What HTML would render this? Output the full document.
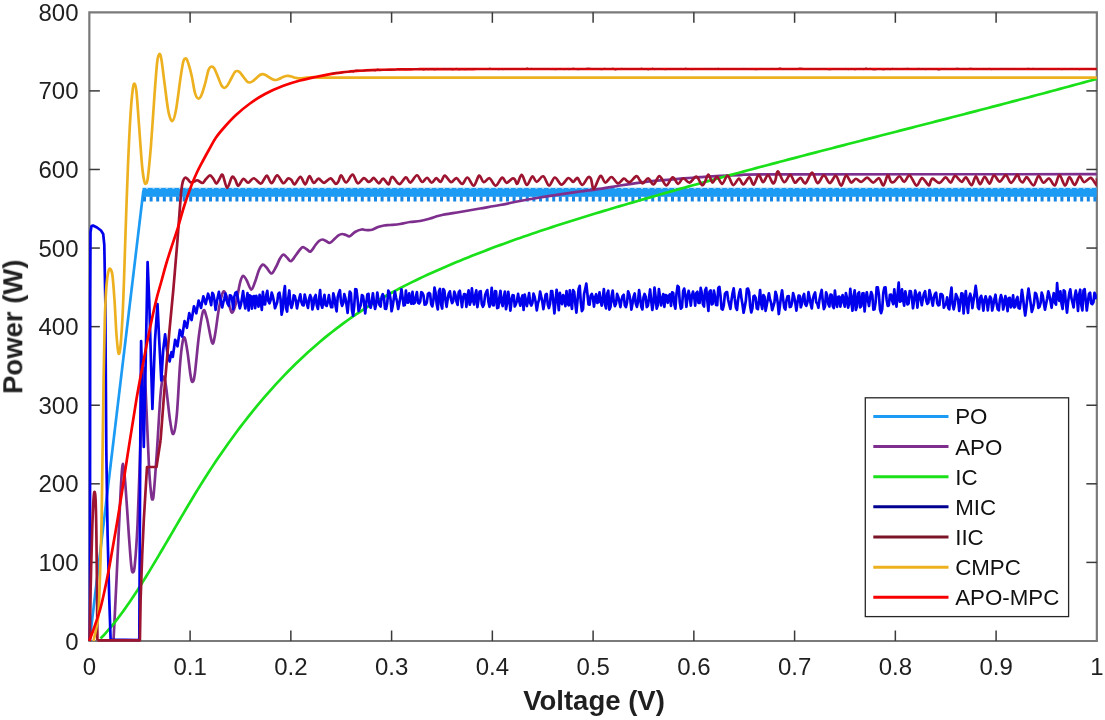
<!DOCTYPE html>
<html><head><meta charset="utf-8"><style>
html,body{margin:0;padding:0;background:#fff;}
svg{display:block;}
text{font-family:"Liberation Sans",sans-serif;}
.t{opacity:0.999;will-change:opacity;}
</style></head><body>
<svg width="1105" height="720" viewBox="0 0 1105 720">
<rect width="1105" height="720" fill="#fff"/>
<defs><clipPath id="c"><rect x="87.35" y="12.3" width="1009.5" height="630.7"/></clipPath></defs>
<g fill="none" stroke="#7a7a7a" stroke-width="2.2">
<path d="M89.35 12.3L1096.85 12.3L1096.85 641L89.35 641Z"/>
</g>
<g stroke="#3a3a3a" stroke-width="1.5">
<line x1="190.1" y1="641" x2="190.1" y2="630.5"/>
<line x1="190.1" y1="12.3" x2="190.1" y2="22.8"/>
<line x1="290.85" y1="641" x2="290.85" y2="630.5"/>
<line x1="290.85" y1="12.3" x2="290.85" y2="22.8"/>
<line x1="391.6" y1="641" x2="391.6" y2="630.5"/>
<line x1="391.6" y1="12.3" x2="391.6" y2="22.8"/>
<line x1="492.35" y1="641" x2="492.35" y2="630.5"/>
<line x1="492.35" y1="12.3" x2="492.35" y2="22.8"/>
<line x1="593.1" y1="641" x2="593.1" y2="630.5"/>
<line x1="593.1" y1="12.3" x2="593.1" y2="22.8"/>
<line x1="693.85" y1="641" x2="693.85" y2="630.5"/>
<line x1="693.85" y1="12.3" x2="693.85" y2="22.8"/>
<line x1="794.6" y1="641" x2="794.6" y2="630.5"/>
<line x1="794.6" y1="12.3" x2="794.6" y2="22.8"/>
<line x1="895.35" y1="641" x2="895.35" y2="630.5"/>
<line x1="895.35" y1="12.3" x2="895.35" y2="22.8"/>
<line x1="996.1" y1="641" x2="996.1" y2="630.5"/>
<line x1="996.1" y1="12.3" x2="996.1" y2="22.8"/>
<line x1="89.35" y1="562.41" x2="99.85" y2="562.41"/>
<line x1="1096.85" y1="562.41" x2="1086.35" y2="562.41"/>
<line x1="89.35" y1="483.82" x2="99.85" y2="483.82"/>
<line x1="1096.85" y1="483.82" x2="1086.35" y2="483.82"/>
<line x1="89.35" y1="405.24" x2="99.85" y2="405.24"/>
<line x1="1096.85" y1="405.24" x2="1086.35" y2="405.24"/>
<line x1="89.35" y1="326.65" x2="99.85" y2="326.65"/>
<line x1="1096.85" y1="326.65" x2="1086.35" y2="326.65"/>
<line x1="89.35" y1="248.06" x2="99.85" y2="248.06"/>
<line x1="1096.85" y1="248.06" x2="1086.35" y2="248.06"/>
<line x1="89.35" y1="169.47" x2="99.85" y2="169.47"/>
<line x1="1096.85" y1="169.47" x2="1086.35" y2="169.47"/>
<line x1="89.35" y1="90.89" x2="99.85" y2="90.89"/>
<line x1="1096.85" y1="90.89" x2="1086.35" y2="90.89"/>
</g>
<g clip-path="url(#c)" stroke-linecap="butt">
<path d="M89.6 641L143.4 190.5" stroke="#1c9bf4" stroke-width="2.7" fill="none"/>
<rect x="142.5" y="187.8" width="954.35" height="9.0" fill="#1c9bf4"/>
<line x1="146" y1="188.5" x2="1096.85" y2="188.5" stroke="#fff" stroke-width="1.2" stroke-dasharray="2 4.6" opacity="0.55"/>
<line x1="143" y1="199.1" x2="1096.85" y2="199.1" stroke="#1687e4" stroke-width="5" stroke-dasharray="3 3.6"/>
<path d="M113.5 641C114 630.83 115.62 598.5 116.5 580C117.38 561.5 118 546.67 118.8 530C119.6 513.33 120.58 491 121.3 480C122.02 469 122.45 463.67 123.1 464C123.75 464.33 124.3 471 125.2 482C126.1 493 127.5 516.17 128.5 530C129.5 543.83 130.47 557.95 131.2 565C131.93 572.05 132.3 572.3 132.9 572.3C133.5 572.3 134.03 572.88 134.8 565C135.57 557.12 136.6 544.17 137.5 525C138.4 505.83 139.4 473.33 140.2 450C141 426.67 141.7 398.67 142.3 385C142.9 371.33 143.25 367.17 143.8 368C144.35 368.83 144.73 373.5 145.6 390C146.47 406.5 148.07 449.67 149 467C149.93 484.33 150.63 488.6 151.2 494C151.77 499.4 151.97 499.57 152.4 499.4C152.83 499.23 153.03 501.23 153.8 493C154.57 484.77 155.88 466.33 157 450C158.12 433.67 159.47 407.17 160.5 395C161.53 382.83 162.32 378.67 163.2 377C164.08 375.33 164.67 377.83 165.8 385C166.93 392.17 168.75 411.83 170 420C171.25 428.17 172.17 434.83 173.3 434C174.43 433.17 175.68 426.5 176.8 415C177.92 403.5 179.03 377.17 180 365C180.97 352.83 181.8 346.5 182.6 342C183.4 337.5 183.98 336.33 184.8 338C185.62 339.67 186.55 345.83 187.5 352C188.45 358.17 189.68 370 190.5 375C191.32 380 191.68 382.17 192.4 382C193.12 381.83 193.7 381.83 194.8 374C195.9 366.17 197.6 345.5 199 335C200.4 324.5 201.9 313.83 203.2 311C204.5 308.17 205.32 312.72 206.8 318C208.28 323.28 210.73 339.87 212.1 342.7C213.47 345.53 213.85 340.78 215 335C216.15 329.22 217.65 315.17 219 308C220.35 300.83 221.85 294 223.1 292C224.35 290 225.35 293.33 226.5 296C227.65 298.67 229 305.25 230 308C231 310.75 231.5 313.33 232.5 312.5C233.5 311.67 234.75 307.92 236 303C237.25 298.08 238.85 287.5 240 283C241.15 278.5 241.82 276.5 242.9 276C243.98 275.5 245.12 277.73 246.5 280C247.88 282.27 249.78 289.27 251.2 289.6C252.62 289.93 253.7 285.27 255 282C256.3 278.73 257.72 272.9 259 270C260.28 267.1 261.45 265.02 262.7 264.6C263.95 264.18 265.03 266.02 266.5 267.5C267.97 268.98 269.92 273.58 271.5 273.5C273.08 273.42 274.58 269.5 276 267C277.42 264.5 278.77 260.55 280 258.5C281.23 256.45 282.23 254.87 283.4 254.7C284.57 254.53 285.73 256.42 287 257.5C288.27 258.58 289.5 261.62 291 261.2C292.5 260.78 294.5 256.95 296 255C297.5 253.05 298.83 250.82 300 249.5C301.17 248.18 301.83 247.1 303 247.1C304.17 247.1 305.73 248.77 307 249.5C308.27 250.23 309.18 252.25 310.6 251.5C312.02 250.75 314.1 246.75 315.5 245C316.9 243.25 317.83 241.92 319 241C320.17 240.08 321.33 239.5 322.5 239.5C323.67 239.5 324.73 240.45 326 241C327.27 241.55 328.6 243.22 330.1 242.8C331.6 242.38 333.6 239.75 335 238.5C336.4 237.25 337.32 236.05 338.5 235.3C339.68 234.55 340.85 234.05 342.1 234C343.35 233.95 344.73 234.63 346 235C347.27 235.37 348.2 236.7 349.7 236.2C351.2 235.7 353.02 233.12 355 232C356.98 230.88 359.77 229.83 361.6 229.5C363.43 229.17 364.27 229.95 366 230C367.73 230.05 370 230.3 372 229.8C374 229.3 376 227.72 378 227C380 226.28 382 225.83 384 225.5C386 225.17 387.33 225.25 390 225C392.67 224.75 396.67 224.5 400 224C403.33 223.5 406.67 222.5 410 222C413.33 221.5 416.67 221.58 420 221C423.33 220.42 426.67 219.42 430 218.5C433.33 217.58 435 216.58 440 215.5C445 214.42 453.33 213.17 460 212C466.67 210.83 473.33 209.67 480 208.5C486.67 207.33 493.33 206.25 500 205C506.67 203.75 513.33 202.25 520 201C526.67 199.75 533.33 198.6 540 197.5C546.67 196.4 553.33 195.4 560 194.4C566.67 193.4 573.33 192.43 580 191.5C586.67 190.57 593.33 189.8 600 188.8C606.67 187.8 613.33 186.53 620 185.5C626.67 184.47 633.33 183.45 640 182.6C646.67 181.75 653.33 181.05 660 180.4C666.67 179.75 673.33 179.23 680 178.7C686.67 178.17 693.33 177.67 700 177.2C706.67 176.73 713.33 176.25 720 175.9C726.67 175.55 730 175.35 740 175.1C750 174.85 720.52 174.55 780 174.4C839.48 174.25 1044.04 174.23 1096.85 174.2" stroke="#7e2f8e" stroke-width="2.7" fill="none" stroke-linejoin="round"/>
<path d="M100.5 638.55L102 637.02L103.5 635.45L105 633.83L106.5 632.17L108 630.47L109.5 628.74L111 626.96L112.5 625.14L114 623.29L115.5 621.4L117 619.48L118.5 617.52L120 615.53L121.5 613.5L123 611.45L124.5 609.36L126 607.25L127.5 605.1L129 602.93L130.5 600.73L132 598.51L133.5 596.26L135 593.98L136.5 591.69L138 589.37L139.5 587.03L141 584.67L142.5 582.29L144 579.89L145.5 577.48L147 575.04L148.5 572.6L150 570.13L151.5 567.66L153 565.17L154.5 562.67L156 560.15L157.5 557.63L159 555.1L160.5 552.56L162 550.01L163.5 547.46L165 544.9L166.5 542.34L168 539.77L169.5 537.2L171 534.63L172.5 532.06L174 529.49L175.5 526.92L177 524.35L178.5 521.78L180 519.22L181.5 516.66L183 514.11L184.5 511.57L186 509.03L187.5 506.5L189 503.98L190.5 501.47L192 498.98L193.5 496.49L195 494.02L196.5 491.56L198 489.12L199.5 486.69L200 485.89L204 479.51L208 473.26L212 467.13L216 461.11L220 455.21L224 449.43L228 443.76L232 438.2L236 432.76L240 427.43L244 422.2L248 417.08L252 412.07L256 407.16L260 402.35L264 397.65L268 393.05L272 388.54L276 384.14L280 379.83L284 375.61L288 371.49L292 367.46L296 363.53L300 359.68L304 355.92L308 352.24L312 348.66L316 345.15L320 341.73L324 338.39L328 335.13L332 331.95L336 328.85L340 325.82L344 322.86L348 319.98L352 317.17L356 314.43L360 311.76L364 309.14L368 306.6L372 304.11L376 301.68L380 299.31L384 296.99L388 294.72L392 292.51L396 290.34L400 288.23L404 286.15L408 284.12L412 282.13L416 280.18L420 278.26L424 276.38L428 274.53L432 272.71L436 270.93L440 269.16L444 267.43L448 265.71L452 264.02L456 262.35L460 260.69L464 259.06L468 257.44L472 255.84L476 254.26L480 252.7L484 251.15L488 249.62L492 248.11L496 246.61L500 245.13L504 243.66L508 242.21L512 240.77L516 239.35L520 237.94L524 236.55L528 235.16L532 233.79L536 232.44L540 231.09L544 229.76L548 228.43L552 227.12L556 225.82L560 224.53L564 223.25L568 221.98L572 220.71L576 219.46L580 218.22L584 216.98L588 215.75L592 214.53L596 213.31L600 212.1L604 210.9L608 209.7L612 208.51L616 207.32L620 206.14L624 204.96L628 203.79L632 202.62L636 201.46L640 200.29L644 199.14L648 197.99L652 196.84L656 195.69L660 194.55L664 193.41L668 192.28L672 191.15L676 190.02L680 188.9L684 187.78L688 186.66L692 185.55L696 184.44L700 183.33L704 182.23L708 181.13L712 180.03L716 178.94L720 177.85L724 176.76L728 175.67L732 174.59L736 173.51L740 172.43L744 171.35L748 170.28L752 169.21L756 168.14L760 167.07L764 166.01L768 164.95L772 163.89L776 162.83L780 161.77L784 160.72L788 159.67L792 158.62L796 157.57L800 156.52L804 155.47L808 154.43L812 153.39L816 152.34L820 151.3L824 150.26L828 149.23L832 148.19L836 147.15L840 146.12L844 145.09L848 144.05L852 143.02L856 141.99L860 140.96L864 139.93L868 138.9L872 137.87L876 136.84L880 135.81L884 134.78L888 133.75L892 132.73L896 131.7L900 130.67L904 129.64L908 128.62L912 127.59L916 126.56L920 125.53L924 124.5L928 123.48L932 122.45L936 121.42L940 120.39L944 119.35L948 118.32L952 117.29L956 116.26L960 115.22L964 114.19L968 113.15L972 112.11L976 111.07L980 110.03L984 108.99L988 107.95L992 106.91L996 105.86L1000 104.82L1004 103.77L1008 102.72L1012 101.67L1016 100.61L1020 99.56L1024 98.5L1028 97.44L1032 96.38L1036 95.32L1040 94.25L1044 93.18L1048 92.12L1052 91.04L1056 89.97L1060 88.89L1064 87.81L1068 86.73L1072 85.65L1076 84.56L1080 83.47L1084 82.38L1088 81.28L1092 80.18L1096 79.08L1096.85 78.85" stroke="#19e019" stroke-width="2.7" fill="none" stroke-linejoin="round"/>
<path d="M89.9 641L90.2 300L90.5 232L91.5 226L93 225.5L97 227.5L101 230.5L103.2 234L104.3 245L105.3 300L106.3 450L107.6 535L109.3 600L110.6 639.5L139.3 640L139.7 560L140.4 420L141.1 341L142.2 380L143.8 447L145.5 370L147.6 262L149.2 300L152.4 409L155 340L157.5 304L159.2 340L161.3 380.5L163.2 350L165.1 334.4L167.3 352L169.6 361.5L171.5 352L172.8 356.92L175.15 339.79L177.5 346.3L179.85 329.98L182.2 336.57L184.55 321.08L186.9 327.78L189.25 313.16L191.6 320L193.95 306.29L196.3 313.34L198.65 300.61L201 307.94L203.35 296.3L205.7 304.06L208.05 293.74L210 300L211.2 305.24L212.3 292.81L213.4 294.43L214.5 300.43L215.6 309.85L216.7 302.54L217.8 296.98L218.9 291.93L220 297.36L221.1 302.52L222.2 307.48L223.3 302.37L224.4 298.26L225.5 293.62L226.6 300.28L227.7 303.78L228.8 305.75L229.9 295.24L231 295.67L232.1 298.5L233.2 309.18L234.3 296.76L235.4 292.79L236.5 292L237.6 296.81L238.7 302.53L239.8 308.3L240.9 304.69L242 298.15L243.1 291.16L244.2 301.33L245.3 308.47L246.4 300.21L247.5 293.12L248.6 310.47L249.7 295.33L250.8 296.05L251.9 308.68L253 296.44L254.1 296.05L255.2 308.15L256.3 295.93L257.4 300.59L258.5 306.64L259.6 294.81L260.7 300.11L261.8 309.95L262.9 291.9L264 304.16L265.1 304.4L266.2 295.32L267.3 290.81L268.4 301.21L269.5 303.35L270.6 300.05L271.7 292.66L272.8 296.02L273.9 301.36L275 308.28L276.1 305.25L277.2 302.32L278.3 293.79L279.4 292.59L280.5 298.56L281.6 314.73L282.7 309.4L283.8 293.5L284.9 286.04L286 307.84L287.1 311.53L288.2 298.65L289.3 290.48L290.4 303.83L291.5 307.93L292.6 304L293.7 295.31L294.8 296.06L295.9 300.84L297 308.38L298.1 302.51L299.2 298.63L300.3 294.29L301.4 302.05L302.5 305.15L303.6 305.29L304.7 294.59L305.8 299.2L306.9 303.95L308 307.84L309.1 298.93L310.2 295.14L311.3 297.88L312.4 309.47L313.5 304.72L314.6 297.31L315.7 295.02L316.8 305.43L317.9 308.97L319 300.03L320.1 290.16L321.2 304.33L322.3 307.72L323.4 299.85L324.5 294.77L325.6 305.21L326.7 305.95L327.8 301.93L328.9 295.19L330 301.88L331.1 307.18L332.2 307.27L333.3 293.35L334.4 297.51L335.5 305.61L336.6 311.36L337.7 297.42L338.8 293.18L339.9 290.19L341 301.83L342.1 305.84L343.2 303.01L344.3 294.07L345.4 298.04L346.5 304.57L347.6 312.89L348.7 301.03L349.8 291.51L350.9 293.23L352 310.37L353.1 315.61L354.2 306.09L355.3 289.2L356.4 289.44L357.5 298.23L358.6 311.12L359.7 308.13L360.8 304.91L361.9 295.13L363 295.86L364.1 302.98L365.2 313.43L366.3 303.23L367.4 294.22L368.5 293.93L369.6 306.04L370.7 307.7L371.8 301.6L372.9 293.27L374 302.19L375.1 308.99L376.2 303.89L377.3 292.57L378.4 300.01L379.5 304.97L380.6 306.57L381.7 296.81L382.8 294.13L383.9 296.88L385 308.66L386.1 308.97L387.2 303.3L388.3 290.57L389.4 292.57L390.5 298.97L391.6 311.26L392.7 306.02L393.8 298.65L394.9 291.54L396 297.3L397.1 302.05L398.2 309.02L399.3 303.49L400.4 296.66L401.5 289.27L402.6 297.64L403.7 305.45L404.8 305.09L405.9 290.49L407 302.41L408.1 302.67L409.2 293.37L410.3 300.65L411.4 303.73L412.5 291.96L413.6 303.58L414.7 302.79L415.8 297.12L416.9 292.11L418 302.6L419.1 303.46L420.2 301.56L421.3 292.23L422.4 292.97L423.5 295.34L424.6 304.63L425.7 304.52L426.8 302.67L427.9 294L429 292.86L430.1 293.76L431.2 304.1L432.3 306.44L433.4 300.24L434.5 287.52L435.6 292.98L436.7 303.95L437.8 309.5L438.9 291.28L440 288.95L441.1 304.56L442.2 308.53L443.3 289.1L444.4 290.81L445.5 300.23L446.6 306.82L447.7 299.03L448.8 293.34L449.9 291.3L451 299.28L452.1 303L453.2 301.02L454.3 291.69L455.4 294.61L456.5 301.55L457.6 304.9L458.7 292.32L459.8 290.74L460.9 298.32L462 307.09L463.1 297.7L464.2 294.01L465.3 294.55L466.4 306.84L467.5 295.9L468.6 290.41L469.7 304.7L470.8 301.65L471.9 288.45L473 299.91L474.1 304.56L475.2 295.34L476.3 290.4L477.4 307.04L478.5 300.06L479.6 291.49L480.7 291.18L481.8 304.02L482.9 306.77L484 304.45L485.1 295.3L486.2 292.09L487.3 290.04L488.4 301.61L489.5 306.78L490.6 300.29L491.7 287.87L492.8 305.2L493.9 305.39L495 291.1L496.1 291.28L497.2 308.08L498.3 307.54L499.4 297.35L500.5 290.79L501.6 302.79L502.7 305.99L503.8 297.34L504.9 291.53L506 309.22L507.1 303.19L508.2 291.82L509.3 298.36L510.4 310.64L511.5 301.66L512.6 295.2L513.7 295.44L514.8 306.5L515.9 304.19L517 300.58L518.1 293.95L519.2 301.06L520.3 305.68L521.4 298.63L522.5 295.5L523.6 309.94L524.7 294.51L525.8 299.87L526.9 306.12L528 300.2L529.1 293.1L530.2 302.92L531.3 305.52L532.4 302.87L533.5 293.59L534.6 296.64L535.7 302.25L536.8 310.33L537.9 303.48L539 299.82L540.1 291.56L541.2 296.53L542.3 301.49L543.4 309.15L544.5 302.37L545.6 294.72L546.7 293.96L547.8 304.63L548.9 308.04L550 303.9L551.1 291.15L552.2 291.16L553.3 301.49L554.4 313.31L555.5 301.59L556.6 289.77L557.7 298.1L558.8 310.06L559.9 292.89L561 299.17L562.1 304.19L563.2 295L564.3 297.71L565.4 306.18L566.5 291.18L567.6 303.17L568.7 305.37L569.8 290.32L570.9 301.95L572 309.01L573.1 290.15L574.2 291.9L575.3 303.56L576.4 312.69L577.5 300.47L578.6 289.26L579.7 285.8L580.8 302.06L581.9 311.03L583 309.16L584.1 293.72L585.2 289.15L586.3 283.65L587.4 293.75L588.5 304.43L589.6 304.71L590.7 295.71L591.8 293.95L592.9 297.47L594 306.55L595.1 297.5L596.2 294.21L597.3 302.85L598.4 301.96L599.5 292.38L600.6 301.08L601.7 305.66L602.8 297.58L603.9 289L605 304.71L606.1 308.49L607.2 293.77L608.3 290.69L609.4 309.55L610.5 306.94L611.6 296L612.7 290.51L613.8 301.89L614.9 306.12L616 303.73L617.1 293.89L618.2 296.67L619.3 301.4L620.4 307.07L621.5 300.13L622.6 296.1L623.7 294.77L624.8 305.28L625.9 307.18L627 302.76L628.1 291.31L629.2 294.13L630.3 299.65L631.4 309.57L632.5 303.48L633.6 296.59L634.7 293.51L635.8 303.68L636.9 306.92L638 301.75L639.1 290.09L640.2 297.9L641.3 306.76L642.4 309.39L643.5 297.48L644.6 293.95L645.7 296.75L646.8 307.03L647.9 305.68L649 298.26L650.1 289.47L651.2 300.91L652.3 309.91L653.4 303.18L654.5 287.68L655.6 296.36L656.7 308.54L657.8 305.23L658.9 289.06L660 296.69L661.1 305.41L662.2 299.03L663.3 294.13L664.4 306.79L665.5 295.05L666.6 295.55L667.7 302.8L668.8 296.15L669.9 294.3L671 305.9L672.1 292.24L673.2 292.84L674.3 304.16L675.4 308.68L676.5 293.91L677.6 285.89L678.7 286.92L679.8 302.41L680.9 308.7L682 307.25L683.1 291.31L684.2 288.55L685.3 294.94L686.4 306.78L687.5 297.51L688.6 290.91L689.7 295.78L690.8 305.7L691.9 295.87L693 291.54L694.1 296.21L695.2 305.71L696.3 293.07L697.4 291.75L698.5 302.89L699.6 302.94L700.7 287.92L701.8 292.86L702.9 304.18L704 306.54L705.1 290.35L706.2 287.96L707.3 300.39L708.4 310.94L709.5 291.56L710.6 290.36L711.7 304.37L712.8 303.55L713.9 290.52L715 296.4L716.1 305.01L717.2 305.22L718.3 287.88L719.4 286.86L720.5 295.66L721.6 308.9L722.7 309.62L723.8 305.2L724.9 294.09L726 292.39L727.1 292.13L728.2 300.04L729.3 304.64L730.4 308.91L731.5 300.08L732.6 293.03L733.7 288.43L734.8 298.92L735.9 307.4L737 309.86L738.1 299.45L739.2 293.23L740.3 289.3L741.4 298.12L742.5 304.57L743.6 312.76L744.7 307.27L745.8 301.07L746.9 288.93L748 288.52L749.1 292.15L750.2 306.58L751.3 312.44L752.4 308.45L753.5 296.28L754.6 295.77L755.7 297.92L756.8 308.38L757.9 309.16L759 300.74L760.1 290L761.2 303.94L762.3 309.01L763.4 295.01L764.5 296.72L765.6 310.83L766.7 305.3L767.8 299.12L768.9 293.29L770 299.41L771.1 302.81L772.2 310.15L773.3 306.28L774.4 302.53L775.5 291.75L776.6 295.3L777.7 302.61L778.8 314.03L779.9 306.17L781 296.7L782.1 290.33L783.2 299.62L784.3 307.86L785.4 309.53L786.5 300.15L787.6 296.24L788.7 296.13L789.8 307.02L790.9 306.63L792 302.94L793.1 293.14L794.2 296.98L795.3 302.51L796.4 310.65L797.5 302.41L798.6 295.64L799.7 295.9L800.8 307.26L801.9 303.88L803 296.95L804.1 293.95L805.2 303.96L806.3 305.86L807.4 302.33L808.5 292.19L809.6 297.61L810.7 304.11L811.8 308.41L812.9 298.77L814 294.89L815.1 292.48L816.2 302.16L817.3 303.74L818.4 307.75L819.5 299.63L820.6 294.38L821.7 290L822.8 301.27L823.9 309.1L825 306.47L826.1 292.26L827.2 296L828.3 303.87L829.4 306.56L830.5 294.55L831.6 294.83L832.7 305.84L833.8 308.04L834.9 290.61L836 300.74L837.1 306.85L838.2 296.9L839.3 296.58L840.4 306.64L841.5 298.97L842.6 295.03L843.7 302.54L844.8 306.69L845.9 293L847 298.01L848.1 307.64L849.2 303.27L850.3 288.79L851.4 302.24L852.5 310.74L853.6 295.95L854.7 290.3L855.8 309.97L856.9 306.57L858 293.54L859.1 292.27L860.2 307.33L861.3 306.16L862.4 293.38L863.5 293.23L864.6 311.41L865.7 299.04L866.8 292.29L867.9 299.76L869 306.02L870.1 297.6L871.2 292.04L872.3 294.87L873.4 309.71L874.5 309.32L875.6 302.38L876.7 287.24L877.8 287.35L878.9 294.75L880 309.51L881.1 313.21L882.2 309.05L883.3 292.79L884.4 287.64L885.5 287.39L886.6 299.46L887.7 305.89L888.8 305.41L889.9 294.74L891 294.6L892.1 300.67L893.2 304.22L894.3 289.36L895.4 300.7L896.5 306.65L897.6 293.99L898.7 282.58L899.8 301.66L900.9 301.13L902 289.42L903.1 299.96L904.2 305.75L905.3 291.32L906.4 296.93L907.5 304.51L908.6 303.5L909.7 291.1L910.8 291.34L911.9 298.02L913 308.26L914.1 300.11L915.2 290.55L916.3 294.59L917.4 307.55L918.5 296.08L919.6 292.54L920.7 298.91L921.8 305.19L922.9 298.31L924 293.61L925.1 291.23L926.2 300.42L927.3 303.96L928.4 302.66L929.5 290.15L930.6 294.76L931.7 300.47L932.8 305.61L933.9 297.44L935 293.92L936.1 292.7L937.2 303.1L938.3 305.32L939.4 305.04L940.5 294.01L941.6 293.98L942.7 295.49L943.8 307.65L944.9 304.93L946 304.39L947.1 297.43L948.2 307.68L949.3 309.27L950.4 295.62L951.5 287.59L952.6 304.31L953.7 309.31L954.8 304.23L955.9 294.04L957 296.5L958.1 299.85L959.2 310.99L960.3 302.82L961.4 293.36L962.5 293.65L963.6 313.36L964.7 300.84L965.8 291.03L966.9 303.6L968 312.87L969.1 297.92L970.2 293.74L971.3 298.13L972.4 308.11L973.5 300.65L974.6 294.34L975.7 285.96L976.8 294.7L977.9 307.37L979 309.11L980.1 298.18L981.2 295.84L982.3 301.83L983.4 310.7L984.5 300.29L985.6 296.33L986.7 300.23L987.8 310.34L988.9 301.72L990 296.52L991.1 298.33L992.2 310.52L993.3 305.38L994.4 299.27L995.5 294.71L996.6 303.82L997.7 309.26L998.8 310.28L999.9 299.57L1001 295.16L1002.1 298.82L1003.2 309.5L1004.3 304.43L1005.4 296.13L1006.5 301.2L1007.6 311.04L1008.7 298.04L1009.8 297.85L1010.9 307.35L1012 304.67L1013.1 295.44L1014.2 307.42L1015.3 306.43L1016.4 299.6L1017.5 297.01L1018.6 308.09L1019.7 308.52L1020.8 300.92L1021.9 289.77L1023 297.51L1024.1 307.5L1025.2 315.5L1026.3 307.48L1027.4 297.17L1028.5 288.62L1029.6 295.88L1030.7 303.56L1031.8 311.9L1032.9 308.55L1034 303.33L1035.1 292.81L1036.2 293.95L1037.3 298.59L1038.4 307.9L1039.5 306.79L1040.6 302.88L1041.7 292.59L1042.8 295.9L1043.9 303.63L1045 309.66L1046.1 304.01L1047.2 298.31L1048.3 291.44L1049.4 295.46L1050.5 301.3L1051.6 307.78L1052.7 299.35L1053.8 293.06L1054.9 302.54L1056 304.56L1057.1 283.2L1058.2 297.02L1059.3 300.97L1060.4 291.37L1061.5 303.58L1062.6 309.04L1063.7 290.39L1064.8 291.22L1065.9 303.39L1067 312.6L1068.1 302.03L1069.2 293.67L1070.3 289.38L1071.4 298.17L1072.5 302.48L1073.6 307.37L1074.7 296.69L1075.8 290.64L1076.9 296.89L1078 310.98L1079.1 294.7L1080.2 289.7L1081.3 305.06L1082.4 310.37L1083.5 290.58L1084.6 289.1L1085.7 300.21L1086.8 310.49L1087.9 301.68L1089 293.97L1090.1 292.66L1091.2 303.36L1092.3 304.19L1093.4 302.25L1094.5 292.77L1095.6 294.99L1096.7 299.26" stroke="#0000ec" stroke-width="2.7" fill="none" stroke-linejoin="round"/>
<path d="M89.6 641C89.77 632.5 90.17 608.5 90.6 590C91.03 571.5 91.7 545.33 92.2 530C92.7 514.67 93.18 504.33 93.6 498C94.02 491.67 94.37 491.67 94.7 492C95.03 492.33 95.32 492.83 95.6 500C95.88 507.17 96.15 518.33 96.4 535C96.65 551.67 96.93 582.45 97.1 600C97.27 617.55 97.35 633.58 97.4 640.3" stroke="#9c1430" stroke-width="2.7" fill="none" stroke-linejoin="round"/>
<path d="M97.4 640.3L139.9 640.3L140.6 600L142.2 555L143.8 520L147 467L156.5 467L160.6 440" stroke="#9c1430" stroke-width="2.7" fill="none" stroke-linejoin="round"/>
<path d="M160.6 440C161.37 430 163.72 398.33 165.2 380C166.68 361.67 168.15 345 169.5 330C170.85 315 172.32 300.83 173.3 290C174.28 279.17 174.7 273.33 175.4 265C176.1 256.67 176.82 248.67 177.5 240C178.18 231.33 178.85 221.33 179.5 213C180.15 204.67 180.82 195.33 181.4 190C181.98 184.67 182.33 183.08 183 181C183.67 178.92 184.57 177.75 185.4 177.5C186.23 177.25 187.12 178.68 188 179.5C188.88 180.32 189.7 182.07 190.7 182.4C191.7 182.73 192.85 181.85 194 181.5C195.15 181.15 196.18 180.05 197.6 180.3C199.02 180.55 201.1 183.22 202.5 183C203.9 182.78 204.75 180.27 206 179C207.25 177.73 208.75 175.4 210 175.4C211.25 175.4 212.43 177.62 213.5 179C214.57 180.38 215.4 183.7 216.4 183.7C217.4 183.7 218.47 180.47 219.5 179C220.53 177.53 221.33 173.43 222.6 174.9C223.87 176.37 225.6 187.47 227.15 187.83C228.7 188.2 230.57 178.46 231.9 177.06C233.22 175.66 234.03 177.97 235.1 179.42C236.17 180.87 236.91 185.88 238.3 185.77C239.69 185.67 241.82 179.3 243.46 178.8C245.1 178.3 246.42 182.85 248.14 182.76C249.86 182.66 251.72 178.09 253.8 178.25C255.88 178.41 258.92 183.48 260.6 183.7C262.28 183.92 262.77 180.91 263.86 179.59C264.95 178.26 265.84 175.15 267.12 175.75C268.41 176.36 269.89 183.27 271.57 183.22C273.25 183.17 275.23 175.47 277.19 175.46C279.15 175.46 281.51 182.69 283.31 183.2C285.11 183.71 286.66 179.08 287.99 178.51C289.32 177.94 290.19 178.78 291.29 179.76C292.38 180.73 293.06 184.86 294.58 184.37C296.11 183.87 298.64 176.77 300.42 176.78C302.2 176.79 303.73 184.58 305.24 184.44C306.74 184.31 308.03 176.24 309.44 175.99C310.86 175.74 312.22 182.51 313.72 182.95C315.23 183.39 316.77 178.65 318.49 178.62C320.21 178.6 322.03 182.82 324.04 182.79C326.05 182.76 328.64 178.27 330.56 178.45C332.48 178.62 334.26 183.36 335.56 183.85C336.86 184.34 337.43 182.81 338.37 181.4C339.3 179.99 339.88 175.21 341.18 175.39C342.48 175.58 344.27 182.62 346.17 182.49C348.07 182.37 350.62 174.52 352.55 174.65C354.48 174.78 355.87 182.69 357.76 183.27C359.65 183.85 362.11 178.37 363.89 178.14C365.67 177.91 367.24 181.51 368.46 181.88C369.68 182.25 370.28 181.02 371.2 180.36C372.11 179.7 372.66 177.44 373.94 177.93C375.21 178.42 377.3 183.21 378.84 183.32C380.37 183.42 381.55 178.39 383.15 178.58C384.75 178.77 387.18 184.4 388.44 184.45C389.7 184.5 389.95 180.11 390.7 178.89C391.46 177.66 391.52 176.23 392.97 177.11C394.42 177.99 397.24 184.14 399.39 184.17C401.53 184.2 404.01 177.55 405.84 177.31C407.67 177.06 408.52 183.04 410.37 182.7C412.22 182.36 414.97 175.37 416.91 175.25C418.86 175.12 420.38 181.53 422.06 181.95C423.75 182.37 425.46 177.63 427.05 177.76C428.64 177.89 430.08 182.67 431.62 182.73C433.17 182.8 434.81 178.28 436.31 178.15C437.82 178.03 439.21 182.43 440.63 181.99C442.05 181.56 443.1 175.51 444.83 175.54C446.56 175.57 449.05 181.76 450.99 182.19C452.92 182.61 454.56 177.79 456.42 178.09C458.28 178.38 460.32 184.05 462.16 183.95C464 183.85 465.52 177.19 467.45 177.48C469.39 177.76 471.84 185.96 473.79 185.65C475.74 185.34 477.5 176.18 479.14 175.61C480.78 175.04 481.9 181.8 483.63 182.24C485.35 182.67 487.46 177.66 489.47 178.22C491.48 178.78 493.58 185.72 495.69 185.61C497.8 185.5 500.33 178.04 502.14 177.58C503.95 177.12 504.84 182.7 506.54 182.85C508.24 183 510.96 179.05 512.34 178.48C513.72 177.9 514 178.55 514.83 179.42C515.66 180.29 516.17 184.44 517.32 183.69C518.47 182.93 520.12 174.67 521.72 174.89C523.31 175.1 525.12 184.7 526.88 184.97C528.64 185.23 530.65 177 532.29 176.48C533.93 175.96 534.89 181.89 536.71 181.86C538.53 181.83 541.16 175.69 543.21 176.3C545.27 176.91 547.08 185.31 549.03 185.51C550.97 185.71 552.8 177.64 554.88 177.49C556.97 177.35 559.29 184.56 561.52 184.65C563.75 184.74 566.36 178.48 568.28 178.03C570.21 177.57 571.88 181.66 573.07 181.93C574.25 182.19 574.62 180.25 575.39 179.63C576.17 179 576.55 177.29 577.71 178.17C578.87 179.06 580.63 185.05 582.35 184.93C584.07 184.81 586.6 178.47 588.04 177.46C589.48 176.44 589.99 176.95 590.97 178.86C591.94 180.77 592.33 189.39 593.89 188.91C595.46 188.43 598.44 177.05 600.36 175.99C602.28 174.93 603.55 182.37 605.41 182.53C607.27 182.7 609.41 176.85 611.5 176.99C613.59 177.13 615.9 183.13 617.95 183.39C619.99 183.65 622.28 178.98 623.77 178.56C625.26 178.14 625.85 180.32 626.89 180.88C627.94 181.45 628.43 182.75 630.02 181.96C631.61 181.16 634.82 176.44 636.45 176.12C638.07 175.8 638.65 178.86 639.75 180.05C640.86 181.25 641.66 183.59 643.06 183.29C644.47 182.99 646.43 178.08 648.19 178.27C649.94 178.47 651.72 184.83 653.6 184.46C655.48 184.09 657.37 175.9 659.47 176.05C661.57 176.2 664 185.17 666.2 185.38C668.41 185.58 670.74 177.54 672.71 177.29C674.69 177.04 676.32 183.72 678.07 183.87C679.82 184.03 681.29 178.44 683.21 178.23C685.12 178.02 687.37 182.88 689.56 182.62C691.75 182.35 694.29 176.22 696.35 176.63C698.42 177.04 700.49 184.28 701.96 185.08C703.43 185.87 704.1 183.16 705.17 181.4C706.24 179.64 707.14 174.32 708.38 174.51C709.62 174.71 711.14 182.19 712.59 182.56C714.03 182.93 715.45 176.51 717.05 176.72C718.65 176.93 720.44 183.97 722.21 183.79C723.99 183.62 725.88 175.47 727.7 175.68C729.52 175.89 731.28 184.57 733.15 185.05C735.03 185.53 737.29 178.65 738.97 178.56C740.66 178.47 741.54 184.7 743.27 184.51C744.99 184.32 747.6 177.39 749.32 177.41C751.05 177.42 752.08 185.02 753.64 184.6C755.19 184.19 757.08 175.3 758.65 174.9C760.23 174.5 761.54 182.18 763.1 182.2C764.66 182.22 766.4 174.88 768.02 175.03C769.64 175.18 771.59 182.25 772.81 183.12C774.04 183.99 774.52 182.22 775.37 180.25C776.22 178.29 776.47 171.01 777.93 171.32C779.39 171.63 782.09 181.53 784.13 182.12C786.17 182.72 788.41 174.81 790.18 174.88C791.94 174.95 793.44 181.64 794.72 182.53C795.99 183.41 796.79 180.95 797.82 180.19C798.85 179.44 799.63 177.48 800.92 177.99C802.21 178.49 803.7 184.11 805.56 183.21C807.42 182.31 810.06 172.61 812.06 172.6C814.06 172.59 815.6 182.67 817.57 183.14C819.54 183.61 821.83 175.45 823.88 175.43C825.94 175.4 827.9 182.94 829.89 182.99C831.89 183.03 834 175.26 835.87 175.71C837.75 176.16 839.44 185.75 841.14 185.7C842.85 185.66 844.41 175.98 846.09 175.45C847.77 174.92 849.6 181.97 851.23 182.52C852.86 183.06 854.22 178.83 855.88 178.74C857.54 178.64 859.33 182.13 861.2 181.95C863.07 181.76 865.11 177.54 867.11 177.64C869.12 177.74 871.23 182.44 873.22 182.53C875.2 182.62 877.34 177.67 879.02 178.17C880.71 178.67 881.88 185.98 883.34 185.51C884.8 185.03 886.5 175.97 887.77 175.32C889.03 174.67 889.86 180.53 890.9 181.62C891.95 182.7 892.6 182.72 894.04 181.83C895.48 180.94 897.86 176.25 899.55 176.26C901.24 176.27 902.49 182.03 904.18 181.89C905.87 181.76 907.63 174.83 909.68 175.44C911.72 176.05 914.39 185.13 916.46 185.56C918.53 186 920.08 178.08 922.09 178.04C924.1 178 927.1 184.79 928.53 185.34C929.96 185.88 929.96 182.42 930.67 181.31C931.38 180.19 931.32 178.4 932.8 178.67C934.29 178.94 937.45 183.15 939.58 182.93C941.7 182.71 943.7 177.4 945.55 177.35C947.4 177.3 949.09 182.86 950.67 182.63C952.25 182.4 953.23 176.09 955.04 175.95C956.86 175.81 959.72 181.54 961.53 181.78C963.35 182.02 964.24 176.83 965.91 177.4C967.58 177.97 969.91 185.37 971.56 185.19C973.21 185.01 974.37 176.49 975.8 176.31C977.24 176.14 978.7 184.09 980.17 184.16C981.64 184.23 983.06 176.84 984.63 176.74C986.21 176.64 988.07 183.83 989.62 183.59C991.18 183.35 992.29 175.6 993.96 175.28C995.64 174.96 997.71 181.67 999.68 181.65C1001.66 181.64 1003.9 174.99 1005.81 175.19C1007.71 175.39 1009.2 182.89 1011.11 182.83C1013.02 182.78 1015.77 175.28 1017.25 174.86C1018.74 174.44 1019.1 179.04 1020.03 180.29C1020.95 181.54 1021.96 182.59 1022.8 182.35C1023.65 182.11 1024.33 179.64 1025.1 178.84C1025.86 178.05 1025.98 176.51 1027.39 177.59C1028.8 178.66 1031.71 185.55 1033.55 185.28C1035.39 185.02 1036.79 176.41 1038.44 175.98C1040.08 175.55 1041.64 182.3 1043.42 182.72C1045.2 183.13 1047.21 178.01 1049.11 178.48C1051 178.94 1053.05 186.07 1054.77 185.5C1056.49 184.94 1057.71 175.11 1059.43 175.11C1061.15 175.11 1063.4 185.15 1065.07 185.5C1066.75 185.85 1067.87 177.3 1069.47 177.21C1071.07 177.12 1072.95 185.11 1074.65 184.94C1076.35 184.77 1078.11 176.62 1079.68 176.18C1081.25 175.73 1082.23 181.97 1084.09 182.25C1085.94 182.54 1088.69 177.37 1090.81 177.89C1092.92 178.41 1095.75 185.32 1096.76 185.37C1097.76 185.43 1096.83 179.4 1096.85 178.21" stroke="#9c1430" stroke-width="2.7" fill="none" stroke-linejoin="round"/>
<path d="M93.5 641C93.97 638.83 95.45 632.83 96.3 628C97.15 623.17 97.9 623.33 98.6 612C99.3 600.67 100 575.33 100.5 560C101 544.67 101.25 538.33 101.6 520C101.95 501.67 102.27 473.33 102.6 450C102.93 426.67 103.23 401.67 103.6 380C103.97 358.33 104.32 335.83 104.8 320C105.28 304.17 105.88 293.17 106.5 285C107.12 276.83 107.85 273.67 108.5 271C109.15 268.33 109.75 268.33 110.4 269C111.05 269.67 111.72 269.83 112.4 275C113.08 280.17 113.82 290 114.5 300C115.18 310 115.82 326.08 116.5 335C117.18 343.92 117.92 351.83 118.6 353.5C119.28 355.17 119.93 351.42 120.6 345C121.27 338.58 122.03 325.83 122.6 315C123.17 304.17 123.47 295 124 280C124.53 265 125.13 244.17 125.8 225C126.47 205.83 127.22 183.33 128 165C128.78 146.67 129.7 127.67 130.5 115C131.3 102.33 132.12 94.2 132.8 89C133.48 83.8 133.98 83.3 134.6 83.8C135.22 84.3 135.77 85.13 136.5 92C137.23 98.87 138.08 112.83 139 125C139.92 137.17 141.13 155.67 142 165C142.87 174.33 143.55 177.92 144.2 181C144.85 184.08 145.3 184 145.9 183.5C146.5 183 146.95 184.42 147.8 178C148.65 171.58 149.88 158.83 151 145C152.12 131.17 153.47 108.83 154.5 95C155.53 81.17 156.38 68.83 157.2 62C158.02 55.17 158.68 54.33 159.4 54C160.12 53.67 160.65 55.17 161.5 60C162.35 64.83 163.33 74.33 164.5 83C165.67 91.67 167.18 105.67 168.5 112C169.82 118.33 171.15 121.33 172.4 121C173.65 120.67 174.65 117.17 176 110C177.35 102.83 179.3 86 180.5 78C181.7 70 182.42 65.25 183.2 62C183.98 58.75 184.48 58.67 185.2 58.5C185.92 58.33 186.45 58.25 187.5 61C188.55 63.75 190.25 69.67 191.5 75C192.75 80.33 193.87 89.08 195 93C196.13 96.92 197.22 98.17 198.3 98.5C199.38 98.83 200.38 97.42 201.5 95C202.62 92.58 203.83 88.17 205 84C206.17 79.83 207.5 72.88 208.5 70C209.5 67.12 210.08 67.03 211 66.7C211.92 66.37 212.83 66.28 214 68C215.17 69.72 216.75 74.08 218 77C219.25 79.92 220.47 83.7 221.5 85.5C222.53 87.3 223.28 87.72 224.2 87.8C225.12 87.88 225.87 87.47 227 86C228.13 84.53 229.75 81.25 231 79C232.25 76.75 233.55 73.83 234.5 72.5C235.45 71.17 235.87 71.08 236.7 71C237.53 70.92 238.37 71 239.5 72C240.63 73 242.25 75.42 243.5 77C244.75 78.58 245.97 80.58 247 81.5C248.03 82.42 248.7 82.58 249.7 82.5C250.7 82.42 251.78 81.83 253 81C254.22 80.17 255.83 78.5 257 77.5C258.17 76.5 259.08 75.55 260 75C260.92 74.45 261.58 74.2 262.5 74.2C263.42 74.2 264.33 74.45 265.5 75C266.67 75.55 268.25 76.75 269.5 77.5C270.75 78.25 271.95 79.08 273 79.5C274.05 79.92 274.8 80.08 275.8 80C276.8 79.92 277.8 79.5 279 79C280.2 78.5 281.83 77.5 283 77C284.17 76.5 285.12 76.2 286 76C286.88 75.8 287.38 75.72 288.3 75.8C289.22 75.88 290.3 76.17 291.5 76.5C292.7 76.83 294.33 77.48 295.5 77.8C296.67 78.12 297.62 78.3 298.5 78.4C299.38 78.5 299.72 78.48 300.8 78.4C301.88 78.32 303.47 78.08 305 77.9C306.53 77.72 308.17 77.45 310 77.3C311.83 77.15 314 77 316 77C318 77 319.67 77.18 322 77.3C324.33 77.42 326.17 77.65 330 77.7C333.83 77.75 336.67 77.62 345 77.6C353.33 77.58 254.69 77.6 380 77.6C505.31 77.6 977.37 77.6 1096.85 77.6" stroke="#edb120" stroke-width="2.7" fill="none" stroke-linejoin="round"/>
<path d="M89.4 641C90.17 638.83 92.23 633.17 94 628C95.77 622.83 98.25 616.17 100 610C101.75 603.83 103.04 597.67 104.5 591C105.96 584.33 107.33 577.5 108.75 570C110.17 562.5 111.54 554.33 113 546C114.46 537.67 116.08 528.5 117.5 520C118.92 511.5 120.2 503.33 121.5 495C122.8 486.67 124.05 478.17 125.3 470C126.55 461.83 127.72 454.17 129 446C130.28 437.83 131.75 428.83 133 421C134.25 413.17 135.35 405.83 136.5 399C137.65 392.17 138.67 386.67 139.9 380C141.13 373.33 142.28 367.33 143.9 359C145.52 350.67 147.58 339.67 149.6 330C151.62 320.33 154.07 309 156 301C157.93 293 159.48 288.25 161.2 282C162.92 275.75 164.63 269.17 166.3 263.5C167.97 257.83 169.38 253.58 171.2 248C173.02 242.42 175.03 237 177.2 230C179.37 223 181.87 213.33 184.2 206C186.53 198.67 189.08 191.58 191.2 186C193.32 180.42 194.97 176.67 196.9 172.5C198.83 168.33 200.77 164.83 202.8 161C204.83 157.17 206.9 153.42 209.1 149.5C211.3 145.58 213.35 141.33 216 137.5C218.65 133.67 221.67 130.25 225 126.5C228.33 122.75 231.83 118.83 236 115C240.17 111.17 245.17 107 250 103.5C254.83 100 259.45 96.95 265 94C270.55 91.05 277.47 88.05 283.3 85.8C289.13 83.55 294.43 82.02 300 80.5C305.57 78.98 311.7 77.75 316.7 76.7C321.7 75.65 326.78 74.79 330 74.2C333.22 73.61 334 73.49 336 73.19C338 72.88 340 72.62 342 72.37C344 72.13 346 71.91 348 71.72C350 71.52 352 71.35 354 71.19C356 71.03 358 70.89 360 70.76C362 70.63 364 70.52 366 70.42C368 70.31 370 70.22 372 70.14C374 70.06 376 69.99 378 69.92C380 69.85 382 69.79 384 69.74C386 69.69 388 69.64 390 69.6C392 69.55 394 69.51 396 69.48C398 69.45 400 69.41 402 69.39C404 69.36 406 69.33 408 69.31C410 69.29 412 69.27 414 69.25C416 69.23 418 69.22 420 69.2C422 69.19 424 69.17 426 69.16C428 69.15 430 69.14 432 69.13C434 69.12 436 69.11 438 69.11C440 69.1 442 69.09 444 69.08C446 69.08 448 69.07 450 69.07C452 69.06 454 69.06 456 69.06C458 69.05 460 69.05 462 69.04C464 69.04 466 69.04 468 69.04C470 69.03 472 69.03 474 69.03C476 69.03 478 69.02 480 69.02C482 69.02 484 69.02 486 69.02C488 69.02 490 69.02 492 69.01C494 69.01 496 69.01 498 69.01C500 69.01 502 69.01 504 69.01C506 69.01 508 69.01 510 69.01C512 69.01 514 69.01 516 69.01C518 69.01 520 69.01 522 69.01C524 69 526 69 528 69C530 69 532 69 534 69C536 69 538 69 540 69C542 69 544 69 546 69C548 69 550 69 552 69C554 69 556 69 558 69C560 69 562 69 564 69C566 69 568 69 570 69C572 69 574 69 576 69C578 69 580 69 582 69C584 69 586 69 588 69C590 69 592 69 594 69C596 69 598 69 600 69C602 69 604 69 606 69C608 69 610 69 612 69C614 69 616 69 618 69C620 69 622 69 624 69C626 69 628 69 630 69C632 69 634 69 636 69C638 69 640 69 642 69C644 69 646 69 648 69C650 69 652 69 654 69C656 69 658 69 660 69C662 69 664 69 666 69C668 69 670 69 672 69C674 69 676 69 678 69C680 69 682 69 684 69C686 69 688 69 690 69C692 69 694 69 696 69C698 69 700 69 702 69C704 69 706 69 708 69C710 69 712 69 714 69C716 69 718 69 720 69C722 69 724 69 726 69C728 69 730 69 732 69C734 69 736 69 738 69C740 69 742 69 744 69C746 69 748 69 750 69C752 69 754 69 756 69C758 69 760 69 762 69C764 69 766 69 768 69C770 69 772 69 774 69C776 69 778 69 780 69C782 69 784 69 786 69C788 69 790 69 792 69C794 69 796 69 798 69C800 69 802 69 804 69C806 69 808 69 810 69C812 69 814 69 816 69C818 69 820 69 822 69C824 69 826 69 828 69C830 69 832 69 834 69C836 69 838 69 840 69C842 69 844 69 846 69C848 69 850 69 852 69C854 69 856 69 858 69C860 69 862 69 864 69C866 69 868 69 870 69C872 69 874 69 876 69C878 69 880 69 882 69C884 69 886 69 888 69C890 69 892 69 894 69C896 69 898 69 900 69C902 69 904 69 906 69C908 69 910 69 912 69C914 69 916 69 918 69C920 69 922 69 924 69C926 69 928 69 930 69C932 69 934 69 936 69C938 69 940 69 942 69C944 69 946 69 948 69C950 69 952 69 954 69C956 69 958 69 960 69C962 69 964 69 966 69C968 69 970 69 972 69C974 69 976 69 978 69C980 69 982 69 984 69C986 69 988 69 990 69C992 69 994 69 996 69C998 69 1000 69 1002 69C1004 69 1006 69 1008 69C1010 69 1012 69 1014 69C1016 69 1018 69 1020 69C1022 69 1024 69 1026 69C1028 69 1030 69 1032 69C1034 69 1036 69 1038 69C1040 69 1042 69 1044 69C1046 69 1048 69 1050 69C1052 69 1054 69 1056 69C1058 69 1060 69 1062 69C1064 69 1066 69 1068 69C1070 69 1072 69 1074 69C1076 69 1078 69 1080 69C1082 69 1084 69 1086 69C1088 69 1090.19 69 1092 69C1093.81 69 1096.04 69 1096.85 69" stroke="#f80000" stroke-width="2.7" fill="none" stroke-linejoin="round"/>
<path d="M331.4 73.66L333.6 73.14L335.8 73.07L338 72.57L340.2 72.83L342.4 72.67L344.6 72L346.8 71.7L349 71.82L351.2 71.36L353.4 71.92L355.6 70.12L357.8 70.07L360 70.36L362.2 70.78L364.4 70.76L366.6 70.21L368.8 70.27L371 70.07L373.2 70.25L375.4 70.7L377.6 69.12L379.8 70.62L382 70.15L384.2 69.61L386.4 69.84L388.6 69.61L390.8 69.73L393 69.69L395.2 69.75L397.4 69.09L399.6 69.62L401.8 69.15L404 69.24L406.2 69.6L408.4 69.14L410.6 69.38L412.8 69.37L415 69.27L417.2 68.79L419.4 69.37L421.6 69.25L423.8 69.95L426 68.79L428.2 69.51L430.4 68.98L432.6 69.02L434.8 69.71L437 69.06L439.2 69.38L441.4 69.13L443.6 68.77L445.8 69L448 68.92L450.2 68.99L452.4 69.71L454.6 69.22L456.8 68.44L459 69.7L461.2 69.17L463.4 69.35L465.6 69.58L467.8 68.75L470 69.15L472.2 68.98L474.4 68.9L476.6 68.92L478.8 69.06L481 69.43L483.2 69.29L485.4 69.12L487.6 69.44L489.8 68.21L492 69.03L494.2 69.14L496.4 69.12L498.6 69.51L500.8 69.07L503 69.49L505.2 68.95L507.4 69.25L509.6 69.05L511.8 68.92L514 69.19L516.2 69.21L518.4 68.7L520.6 69.34L522.8 68.92L525 69.04L527.2 68.07L529.4 69L531.6 68.34L533.8 69.31L536 68.73L538.2 68.85L540.4 68.95L542.6 68.54L544.8 69.02L547 68.58L549.2 68.93L551.4 69.31L553.6 69.45L555.8 69.51L558 68.93L560.2 68.67L562.4 69.18L564.6 69.55L566.8 68.7L569 69.48L571.2 68.96L573.4 68.08L575.6 69.03L577.8 69.66L580 69.26L582.2 69.38L584.4 69.14L586.6 68.41L588.8 68.18L591 68.63L593.2 68.87L595.4 68.65L597.6 68.72L599.8 69.28L602 69.52L604.2 68.41L606.4 68.63L608.6 68.97L610.8 68.93L613 68.18L615.2 70.03L617.4 69.25L619.6 69.13L621.8 68.33L624 69.11L626.2 68.59L628.4 69.18L630.6 69.11L632.8 69.02L635 69.15L637.2 68.8L639.4 69.06L641.6 68.16L643.8 69.26L646 68.94L648.2 69.89L650.4 69.04L652.6 68.18L654.8 69.54L657 68.74L659.2 68.6L661.4 68.99L663.6 69.45L665.8 69.69L668 68.87L670.2 69.08L672.4 69.08L674.6 68.77L676.8 68.82L679 68.95L681.2 68.98L683.4 69.38L685.6 68.32L687.8 69.17L690 69.13L692.2 69.48L694.4 68.86L696.6 68.87L698.8 69.04L701 68.8L703.2 68.79L705.4 68.76L707.6 68.77L709.8 68.64L712 68.78L714.2 68.72L716.4 68.74L718.6 68.53L720.8 69.33L723 69.11L725.2 68.98L727.4 68.62L729.6 69.22L731.8 68.91L734 68.96L736.2 69.03L738.4 68.96L740.6 69.34L742.8 68.72L745 68.76L747.2 69.05L749.4 68.92L751.6 69.19L753.8 69.32L756 69.48L758.2 69.33L760.4 68.9L762.6 68.94L764.8 68.87L767 69.4L769.2 68.92L771.4 68.7L773.6 68.63L775.8 69.26L778 68.69L780.2 68.07L782.4 69.25L784.6 69.12L786.8 69.27L789 69.35L791.2 69.18L793.4 69.14L795.6 69.02L797.8 68.73L800 68.26L802.2 68.31L804.4 69.13L806.6 69.28L808.8 69.01L811 68.73L813.2 69.22L815.4 68.99L817.6 69.01L819.8 68.87L822 68.59L824.2 68.65L826.4 69.14L828.6 69.57L830.8 69.62L833 68.94L835.2 69.16L837.4 68.97L839.6 69.06L841.8 69.15L844 69.32L846.2 68.6L848.4 69.62L850.6 68.96L852.8 68.66L855 69.81L857.2 68.69L859.4 68.99L861.6 68.75L863.8 69.42L866 68.07L868.2 69.12L870.4 68.45L872.6 69.55L874.8 69.74L877 69.31L879.2 68.73L881.4 69.41L883.6 69.77L885.8 69.09L888 68.87L890.2 69.52L892.4 68.54L894.6 68.9L896.8 68.99L899 69.05L901.2 69.39L903.4 68.95L905.6 68.62L907.8 68.51L910 68.95L912.2 69.17L914.4 69.34L916.6 69.22L918.8 68.52L921 69.2L923.2 68.77L925.4 69.46L927.6 68.9L929.8 68.91L932 68.81L934.2 69.35L936.4 68.97L938.6 69.97L940.8 69.41L943 68.6L945.2 68.99L947.4 69.37L949.6 69.28L951.8 69.22L954 69.09L956.2 68.47L958.4 68.48L960.6 69.29L962.8 68.79L965 69.01L967.2 69.23L969.4 68.35L971.6 68.35L973.8 69.19L976 68.8L978.2 68.88L980.4 69.4L982.6 68.91L984.8 68.99L987 69.11L989.2 68.4L991.4 69.61L993.6 69.15L995.8 68.81L998 69.4L1000.2 68.68L1002.4 68.76L1004.6 68.57L1006.8 68.92L1009 68.74L1011.2 69.09L1013.4 68.77L1015.6 69.09L1017.8 69.16L1020 69.14L1022.2 69.13L1024.4 69.03L1026.6 68.71L1028.8 68.31L1031 69.12L1033.2 68.51L1035.4 69.12L1037.6 68.98L1039.8 68.98L1042 69L1044.2 69.2L1046.4 68.66L1048.6 69.11L1050.8 69.38L1053 69.28L1055.2 69.39L1057.4 68.9L1059.6 68.97L1061.8 69.66L1064 69.18L1066.2 69.09L1068.4 69.35L1070.6 68.7L1072.8 68.95L1075 69.15L1077.2 68.98L1079.4 69.53L1081.6 69.15L1083.8 69.31L1086 68.71L1088.2 69L1090.4 68.99L1092.6 69.18L1094.8 69.17L1096.85 69" stroke="#a0101c" stroke-width="1.3" fill="none" opacity="0.8"/>
</g>
<g class="t" font-size="24" fill="#1f1f1f">
<text x="89.35" y="675" text-anchor="middle">0</text>
<text x="190.1" y="675" text-anchor="middle">0.1</text>
<text x="290.85" y="675" text-anchor="middle">0.2</text>
<text x="391.6" y="675" text-anchor="middle">0.3</text>
<text x="492.35" y="675" text-anchor="middle">0.4</text>
<text x="593.1" y="675" text-anchor="middle">0.5</text>
<text x="693.85" y="675" text-anchor="middle">0.6</text>
<text x="794.6" y="675" text-anchor="middle">0.7</text>
<text x="895.35" y="675" text-anchor="middle">0.8</text>
<text x="996.1" y="675" text-anchor="middle">0.9</text>
<text x="1096.85" y="675" text-anchor="middle">1</text>
<text x="78.5" y="649.5" text-anchor="end">0</text>
<text x="78.5" y="570.91" text-anchor="end">100</text>
<text x="78.5" y="492.32" text-anchor="end">200</text>
<text x="78.5" y="413.74" text-anchor="end">300</text>
<text x="78.5" y="335.15" text-anchor="end">400</text>
<text x="78.5" y="256.56" text-anchor="end">500</text>
<text x="78.5" y="177.97" text-anchor="end">600</text>
<text x="78.5" y="99.39" text-anchor="end">700</text>
<text x="78.5" y="20.8" text-anchor="end">800</text>
</g>
<text class="t" x="594" y="709.5" text-anchor="middle" font-size="27.5" font-weight="bold" fill="#1f1f1f">Voltage (V)</text>
<text class="t" transform="translate(22.3,326.7) rotate(-90)" text-anchor="middle" font-size="27.5" font-weight="bold" fill="#1f1f1f">Power (W)</text>
<g font-size="22.3" fill="#111">
<rect x="865.3" y="397.8" width="203.3" height="218.8" fill="#fff" stroke="#262626" stroke-width="1.3"/>
<line x1="873.3" y1="416.4" x2="948.5" y2="416.4" stroke="#1c9bf4" stroke-width="3"/>
<line x1="873.3" y1="446.55" x2="948.5" y2="446.55" stroke="#7e2f8e" stroke-width="3"/>
<line x1="873.3" y1="476.7" x2="948.5" y2="476.7" stroke="#19e019" stroke-width="3"/>
<line x1="873.3" y1="506.85" x2="948.5" y2="506.85" stroke="#000090" stroke-width="3"/>
<line x1="873.3" y1="537" x2="948.5" y2="537" stroke="#7a1426" stroke-width="3"/>
<line x1="873.3" y1="567.15" x2="948.5" y2="567.15" stroke="#edb120" stroke-width="3"/>
<line x1="873.3" y1="597.3" x2="948.5" y2="597.3" stroke="#f80000" stroke-width="3"/>
<g class="t"><text x="955.2" y="424.4">PO</text>
<text x="955.2" y="454.55">APO</text>
<text x="955.2" y="484.7">IC</text>
<text x="955.2" y="514.85">MIC</text>
<text x="955.2" y="545">IIC</text>
<text x="955.2" y="575.15">CMPC</text>
<text x="955.2" y="605.3">APO-MPC</text></g>
</g>
</svg>
</body></html>
